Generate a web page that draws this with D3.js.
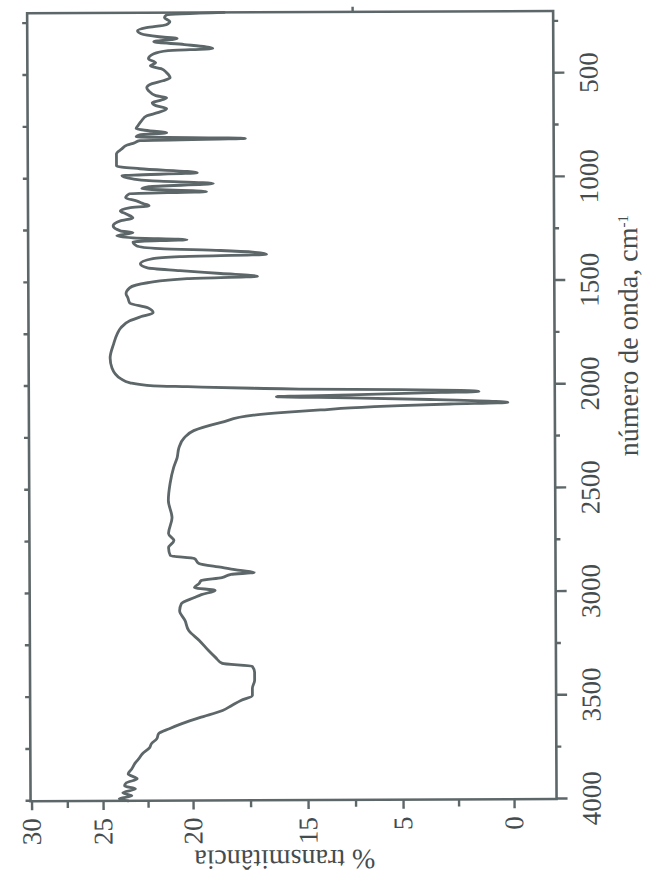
<!DOCTYPE html>
<html><head><meta charset="utf-8">
<script src="https://cdn.jsdelivr.net/npm/d3@7"></script>
<style>body{margin:0;background:#fff}</style>
</head><body>
<svg id="chart" width="645" height="884"></svg>
<script>
// ---- data ----
const wavenumber = [200,212,224,243,258,272,287,301,316,325,340,354,374,383,398,422,441,456,470,489,514,528,542,562,576,600,610,624,634,648,663,682,697,721,745,759,769,779,788,798,808,817,827,837,856,880,914,938,952,972,986,1001,1010,1025,1039,1049,1063,1073,1092,1107,1121,1131,1140,1155,1169,1189,1203,1227,1251,1261,1275,1285,1295,1304,1324,1338,1348,1367,1377,1386,1410,1430,1444,1459,1473,1483,1502,1526,1555,1574,1599,1623,1647,1666,1685,1719,1748,1796,1864,1912,1965,1984,1999,2004,2013,2018,2023,2028,2033,2037,2047,2054,2061,2071,2081,2086,2093,2100,2110,2119,2129,2143,2177,2216,2250,2298,2346,2394,2471,2553,2635,2712,2746,2780,2819,2833,2857,2876,2891,2901,2910,2925,2939,2954,2973,2987,3007,3021,3050,3084,3132,3180,3228,3277,3310,3339,3354,3383,3421,3460,3494,3518,3542,3566,3600,3629,3653,3677,3701,3725,3744,3773,3797,3817,3846,3870,3894,3913,3928,3942,3961,3976,3990,4000];
const transmittance = [18.5,21.3,21.4,21.1,21.3,22.4,22.9,22.7,21.7,20.7,22.0,20.3,19.0,21.2,22.0,22.3,21.9,22.2,21.6,21.3,21.1,21.5,22.1,22.4,22.3,21.9,21.3,21.7,22.1,21.9,21.3,21.8,22.4,22.7,22.9,23.0,22.3,21.3,22.8,23.0,17.6,22.8,23.1,23.5,23.8,24.1,24.1,24.1,22.8,19.7,23.8,23.2,22.3,19.0,22.3,22.7,19.3,23.4,23.6,23.0,22.6,22.3,23.4,23.9,23.6,23.2,23.9,24.3,23.9,23.2,24.1,23.2,20.2,23.2,23.0,21.7,18.7,16.7,20.6,22.1,22.8,22.4,20.6,18.7,17.1,20.2,22.4,23.4,23.6,23.5,23.4,22.4,22.1,22.8,23.4,23.9,24.1,24.3,24.5,24.4,23.9,23.4,22.1,20.2,17.3,15.3,5.1,2.3,1.5,3.2,10.4,16.3,10.4,3.7,0.9,0.2,2.8,5.1,10.4,13.5,15.8,17.3,18.7,19.9,20.4,20.7,20.8,21.0,21.2,21.3,21.1,21.3,21.0,21.3,21.2,19.9,19.7,18.7,17.9,17.3,18.3,18.7,19.6,19.7,19.9,19.0,19.6,19.9,20.6,20.7,20.4,20.2,19.7,19.3,19.0,18.7,17.4,17.3,17.3,17.4,17.4,17.9,18.3,18.7,19.7,20.6,21.3,21.9,22.0,22.3,22.4,22.8,23.0,23.2,23.4,23.6,23.1,23.7,23.8,23.2,23.9,23.4,24.1,23.6];
const wnMajorTicks = [500,1000,1500,2000,2500,3000,3500,4000];
const wnMinorTicks = [250,750,1250,1750,2250,2750,3250,3750];
const wnAllTicks = [250,500,750,1000,1250,1500,1750,2000,2250,2500,2750,3000,3250,3500,3750,4000];
const tMajorTicks = [30,25,20,15,5,0];
const tMajorLabels = ["30","25","20","15","5","0"];
const tMinorTicks = [27.5,22.5,17.5,10,2.5];
const tTopTicks = [10];
const xTitle = "número de onda, cm";
const xTitleSup = "-1";
const yTitle = "% transmitância";

// ---- layout ----
const W = 788, H = 526;          // unrotated plot: wavenumber along W, transmittance along H
const ink = "#5d6668";
const textInk = "#454c4e";
const svg = d3.select("#chart");
svg.append("rect").attr("width",645).attr("height",884).attr("fill","#ffffff");
const root = svg.append("g").attr("transform","rotate(-0.25,322,442)");
const g = root.append("g")
  .attr("transform","translate(29,800) rotate(-90)")
  .attr("font-family","'Liberation Serif','Times New Roman',serif")
  .attr("font-size",27);

const x = d3.scaleLinear().domain([4000,200]).range([0,W]);
const y = d3.scaleLinear().domain(tMajorTicks).range([1,72.5,162.5,277.5,372.5,483.5]);

function styleAxis(sel){
  sel.attr("font-size",null).attr("font-family",null);
  sel.select(".domain").remove();
  sel.selectAll(".tick line").attr("stroke",ink).attr("stroke-width",2.4);
  sel.selectAll(".tick text").attr("fill",textInk);
}

// wavenumber axis (screen right)
g.append("g").attr("transform",`translate(0,${H})`)
  .call(d3.axisBottom(x).tickValues(wnMajorTicks).tickSize(11).tickPadding(14).tickFormat(d3.format("d")))
  .call(styleAxis);
g.append("g").attr("transform",`translate(0,${H})`)
  .call(d3.axisBottom(x).tickValues(wnMinorTicks).tickSize(5).tickFormat(""))
  .call(styleAxis);
// mirrored ticks (screen left)
g.append("g")
  .call(d3.axisTop(x).tickValues(wnAllTicks).tickSize(5).tickFormat(""))
  .call(styleAxis);
// transmittance axis (screen bottom)
g.append("g")
  .call(d3.axisLeft(y).tickValues(tMajorTicks).tickSize(9).tickPadding(8).tickFormat((d,i)=>tMajorLabels[i]))
  .call(styleAxis);
g.append("g")
  .call(d3.axisLeft(y).tickValues(tMinorTicks).tickSize(7).tickFormat(""))
  .call(styleAxis);
g.append("g").attr("transform",`translate(${W},0)`)
  .call(d3.axisRight(y).tickValues(tTopTicks).tickSize(5).tickFormat(""))
  .call(styleAxis);

// frame
g.append("rect").attr("x",0).attr("y",0).attr("width",W).attr("height",H)
  .attr("fill","none").attr("stroke",ink).attr("stroke-width",2.6);

// spectrum
const pts = wavenumber.map((w,i)=>[w,transmittance[i]]);
g.append("path").datum(pts)
  .attr("fill","none").attr("stroke",ink).attr("stroke-width",2.8)
  .attr("stroke-linejoin","round").attr("stroke-linecap","round")
  .attr("d", d3.line().curve(d3.curveMonotoneX).x(d=>x(d[0])).y(d=>y(d[1])));

// titles
const xt = g.append("text").attr("x",463).attr("y",609).attr("text-anchor","middle")
  .attr("font-size",28).attr("fill",textInk);
xt.append("tspan").text(xTitle);
xt.append("tspan").attr("dy","-0.6em").attr("font-size",15).text(xTitleSup);

g.append("text").attr("transform","translate(-50,254) rotate(-90)")
  .attr("text-anchor","middle").attr("font-size",28).attr("fill",textInk).text(yTitle);
</script>
</body></html>
